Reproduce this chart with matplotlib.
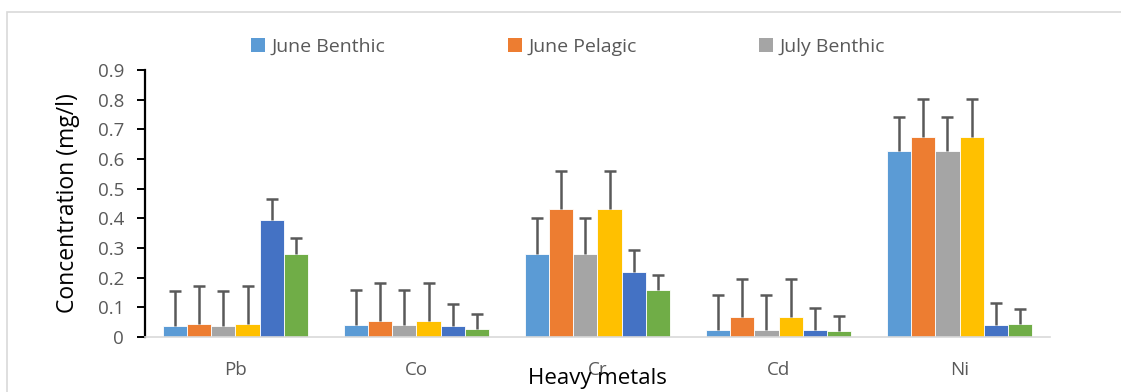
import matplotlib.pyplot as plt
import numpy as np
from matplotlib.patches import Rectangle, Patch

plt.rcParams['font.family'] = ['Open Sans', 'DejaVu Sans']

metals = ['Pb', 'Co', 'Cr', 'Cd', 'Ni']
legend_names = ['June Benthic', 'June Pelagic', 'July Benthic']
colors = ['#5B9BD5', '#ED7D31', '#A5A5A5', '#FFC000', '#4472C4', '#70AD47']

# bar heights, one list per series (order as drawn left to right in each group)
s1 = [0.038, 0.040, 0.281, 0.025, 0.626]
s2 = [0.043, 0.054, 0.431, 0.067, 0.674]
s3 = [0.038, 0.042, 0.281, 0.025, 0.626]
s4 = [0.043, 0.055, 0.431, 0.067, 0.674]
s5 = [0.394, 0.036, 0.219, 0.025, 0.041]
s6 = [0.281, 0.027, 0.158, 0.019, 0.044]

# upper error amounts
e1 = [0.116, 0.117, 0.119, 0.117, 0.116]
e2 = [0.128, 0.128, 0.128, 0.129, 0.128]
e3 = [0.116, 0.116, 0.119, 0.117, 0.116]
e4 = [0.128, 0.127, 0.128, 0.129, 0.128]
e5 = [0.072, 0.074, 0.074, 0.074, 0.073]
e6 = [0.052, 0.052, 0.050, 0.052, 0.051]

series = [s1, s2, s3, s4, s5, s6]
errors = [e1, e2, e3, e4, e5, e6]

fig = plt.figure(figsize=(11.21, 3.92), dpi=100)
ax = fig.add_axes([0.1293, 0.1403, 0.8074, 0.6811])

x = np.arange(len(metals))
w = 0.8 / 6
for i, (vals, err) in enumerate(zip(series, errors)):
    pos = x - 0.4 + w * (i + 0.5)
    ax.bar(pos, vals, w, color=colors[i], edgecolor='white', linewidth=0.6, zorder=2)
    eb = ax.errorbar(pos, vals, yerr=[np.zeros(len(vals)), err], fmt='none',
                     ecolor='#595959', elinewidth=1.8, capsize=4, capthick=1.8, zorder=3)
    # plus-direction only: hide the cap sitting on the bar top
    eb[1][0].set_visible(False)

ax.set_xlim(-0.5, 4.5)
ax.set_ylim(0, 0.9)
ax.set_yticks(np.arange(0, 0.91, 0.1))
ax.set_yticklabels(['0'] + ['%.1f' % v for v in np.arange(0.1, 0.91, 0.1)])
ax.set_xticks(x)
ax.set_xticklabels(metals)

for s in ['top', 'right']:
    ax.spines[s].set_visible(False)
ax.spines['left'].set_color('black')
ax.spines['left'].set_linewidth(1.6)
ax.spines['bottom'].set_color('#D9D9D9')
ax.spines['bottom'].set_linewidth(1.2)
ax.tick_params(axis='y', colors='black', length=6, width=1.4, pad=9,
               labelsize=13.5, labelcolor='#595959')
ax.tick_params(axis='x', length=0, pad=17, labelsize=13.5, labelcolor='#595959')

fig.text(0.0607, 0.482, 'Concentration (mg/l)', rotation=90, ha='center', va='center',
         fontsize=16.5, color='black')
fig.text(0.533, 0.035, 'Heavy metals', ha='center', va='center',
         fontsize=16, color='black')

handles = [Patch(facecolor=colors[i], edgecolor='none') for i in range(3)]
fig.legend(handles, legend_names, loc='center', bbox_to_anchor=(0.507, 0.88), ncol=3,
           frameon=False, fontsize=14, labelcolor='#595959', handlelength=0.7,
           handleheight=0.7, handletextpad=0.35, columnspacing=6.3)

fig.patches.append(Rectangle((7 / 1121, -0.1), 1.2, 0.1 + (392 - 12) / 392,
                             transform=fig.transFigure, fill=False,
                             edgecolor='#D9D9D9', linewidth=1.2))

fig.savefig('out.png', dpi=100)
